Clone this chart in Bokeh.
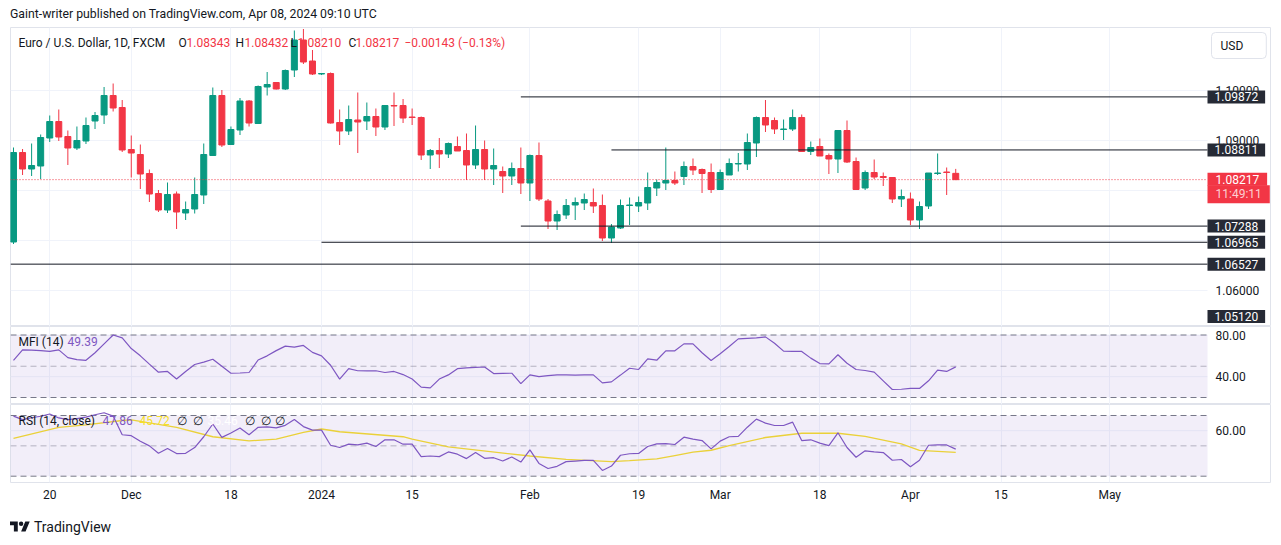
import pandas as pd
from bokeh.plotting import figure
from bokeh.models import (Range1d, FixedTicker, NumeralTickFormatter, Label,
                          BoxAnnotation, Div, ColumnDataSource)
from bokeh.layouts import column
from bokeh.embed import file_html
from bokeh.resources import INLINE

# ---------------- data ----------------
dates = pd.bdate_range("2023-11-14", "2024-04-08")
opens = [1.0697, 1.0876, 1.0843, 1.0849, 1.0905, 1.0938, 1.0908, 1.0885, 1.0899, 1.0939,
         1.0951, 1.0990, 1.0966, 1.0882, 1.0872, 1.0834, 1.0794, 1.0761, 1.0793, 1.0755,
         1.0763, 1.0791, 1.0870, 1.0990, 1.0892, 1.0921, 1.0979, 1.0934, 1.1007, 1.1016,
         1.1003, 1.1041, 1.1101, 1.1059, 1.1033, 1.1034, 1.0936, 1.0919, 1.0941, 1.0939,
         1.0948, 1.0927, 1.0970, 1.0970, 1.0947, 1.0946, 1.0871, 1.0880, 1.0873, 1.0888,
         1.0880, 1.0851, 1.0882, 1.0843, 1.0838, 1.0829, 1.0844, 1.0815, 1.0870, 1.0779,
         1.0739, 1.0751, 1.0771, 1.0775, 1.0776, 1.0770, 1.0705, 1.0725, 1.0770, 1.0769,
         1.0775, 1.0805, 1.0815, 1.0820, 1.0828, 1.0848, 1.0842, 1.0836, 1.0802, 1.0831,
         1.0853, 1.0853, 1.0895, 1.0946, 1.0940, 1.0922, 1.0923, 1.0946, 1.0878, 1.0888,
         1.0870, 1.0863, 1.0920, 1.0858, 1.0805, 1.0836, 1.0828, 1.0826, 1.0783, 1.0783,
         1.0741, 1.0769, 1.0834, 1.0837, 1.08343]
highs = [1.0886, 1.0883, 1.0894, 1.0912, 1.0950, 1.0962, 1.0920, 1.0928, 1.0946, 1.0957,
         1.1007, 1.1014, 1.0981, 1.0910, 1.0892, 1.0842, 1.0801, 1.0816, 1.0798, 1.0778,
         1.0826, 1.0894, 1.1006, 1.1001, 1.0928, 1.0985, 1.0981, 1.1010, 1.1037, 1.1017,
         1.1042, 1.1120, 1.1123, 1.1081, 1.1035, 1.1036, 1.0962, 1.0970, 1.0996, 1.0976,
         1.0964, 1.0970, 1.0996, 1.0983, 1.0964, 1.0948, 1.0883, 1.0905, 1.0896, 1.0908,
         1.0914, 1.0930, 1.0900, 1.0884, 1.0848, 1.0856, 1.0886, 1.0872, 1.0896, 1.0783,
         1.0760, 1.0783, 1.0786, 1.0794, 1.0804, 1.0792, 1.0733, 1.0782, 1.0786, 1.0788,
         1.0836, 1.0822, 1.0886, 1.0838, 1.0858, 1.0864, 1.0844, 1.0854, 1.0842, 1.0864,
         1.0875, 1.0914, 1.0948, 1.0981, 1.0946, 1.0942, 1.0962, 1.0952, 1.0898, 1.0904,
         1.0874, 1.0920, 1.0940, 1.0866, 1.0840, 1.0862, 1.0836, 1.0826, 1.0802, 1.0796,
         1.0778, 1.0835, 1.0874, 1.0846, 1.08432]
lows = [1.0693, 1.0831, 1.0829, 1.0823, 1.0897, 1.0899, 1.0851, 1.0881, 1.0893, 1.0923,
        1.0933, 1.0958, 1.0877, 1.0826, 1.0803, 1.0777, 1.0757, 1.0755, 1.0723, 1.0741,
        1.0754, 1.0773, 1.0869, 1.0887, 1.0891, 1.0911, 1.0928, 1.0933, 1.0990, 1.1002,
        1.1001, 1.1027, 1.1053, 1.1031, 1.1031, 1.0934, 1.0891, 1.0911, 1.0875, 1.0921,
        1.0909, 1.0921, 1.0929, 1.0935, 1.0931, 1.0861, 1.0843, 1.0845, 1.0865, 1.0879,
        1.0821, 1.0843, 1.0821, 1.0811, 1.0795, 1.0811, 1.0793, 1.0779, 1.0779, 1.0723,
        1.0721, 1.0743, 1.0741, 1.0761, 1.0755, 1.0699, 1.0695, 1.0723, 1.0731, 1.0757,
        1.0761, 1.0789, 1.0801, 1.0811, 1.0811, 1.0831, 1.0795, 1.0795, 1.0802, 1.0831,
        1.0838, 1.0841, 1.0867, 1.0917, 1.0913, 1.0901, 1.0919, 1.0878, 1.0871, 1.0869,
        1.0833, 1.0835, 1.0855, 1.0801, 1.0801, 1.0823, 1.0809, 1.0775, 1.0767, 1.0731,
        1.0723, 1.0763, 1.0831, 1.0791, 1.08210]
closes = [1.0876, 1.0843, 1.0850, 1.0906, 1.0938, 1.0907, 1.0885, 1.0900, 1.0930, 1.0950,
          1.0990, 1.0965, 1.0881, 1.0875, 1.0833, 1.0793, 1.0761, 1.0792, 1.0757, 1.0762,
          1.0792, 1.0872, 1.0990, 1.0891, 1.0922, 1.0979, 1.0935, 1.1008, 1.1012, 1.1003,
          1.1040, 1.1101, 1.1057, 1.1033, 1.1034, 1.0935, 1.0919, 1.0942, 1.0937, 1.0948,
          1.0927, 1.0970, 1.0969, 1.0945, 1.0946, 1.0871, 1.0880, 1.0873, 1.0894, 1.0879,
          1.0851, 1.0882, 1.0843, 1.0850, 1.0829, 1.0844, 1.0815, 1.0870, 1.0783, 1.0739,
          1.0752, 1.0770, 1.0776, 1.0782, 1.0769, 1.0705, 1.0727, 1.0770, 1.0771, 1.0776,
          1.0806, 1.0816, 1.0820, 1.0815, 1.0848, 1.0841, 1.0834, 1.0802, 1.0836, 1.0854,
          1.0854, 1.0896, 1.0946, 1.0931, 1.0923, 1.0923, 1.0946, 1.0878, 1.0886, 1.0869,
          1.0863, 1.0920, 1.0857, 1.0802, 1.0836, 1.0827, 1.0826, 1.0783, 1.0788, 1.0741,
          1.0768, 1.0835, 1.0835, 1.0836, 1.08217]
mfi = [55.7, 65.7, 65.5, 65.0, 64.3, 65.7, 58.3, 56.3, 55.7, 63.0,
       71.5, 80.0, 77.3, 67.0, 60.0, 52.0, 44.3, 45.0, 37.7, 45.0,
       51.7, 54.0, 56.7, 50.0, 43.3, 43.5, 44.0, 56.0, 60.0, 65.0,
       69.3, 68.3, 70.0, 63.3, 60.0, 51.0, 37.7, 47.7, 45.7, 45.5,
       45.7, 44.0, 45.0, 42.0, 37.7, 30.0, 29.3, 37.7, 41.7, 47.7,
       48.5, 49.0, 49.3, 43.0, 43.2, 43.3, 33.3, 41.7, 40.0, 41.0,
       41.7, 41.7, 41.5, 41.7, 41.7, 34.0, 35.0, 41.5, 48.1, 46.9,
       57.1, 55.8, 64.8, 64.8, 71.5, 71.5, 63.0, 55.5, 62.0, 69.0,
       76.3, 76.8, 77.2, 78.2, 72.1, 64.5, 64.2, 64.2, 57.8, 52.6,
       52.3, 61.0, 52.9, 46.9, 45.9, 44.3, 36.0, 27.7, 27.9, 28.7,
       28.7, 36.0, 46.2, 45.0, 49.39]
rsi = [69.6, 67.3, 68.5, 69.5, 71.0, 68.4, 67.3, 68.0, 68.9, 70.5,
       71.8, 69.6, 57.3, 56.7, 53.0, 50.0, 45.1, 48.2, 44.9, 45.1,
       48.9, 56.0, 64.4, 55.6, 58.5, 61.8, 57.3, 62.2, 62.5, 61.8,
       63.5, 67.3, 62.7, 60.4, 60.4, 50.4, 48.9, 51.1, 50.7, 51.8,
       49.6, 54.0, 54.0, 51.1, 51.1, 42.9, 43.3, 42.9, 46.0, 44.5,
       41.6, 45.6, 41.8, 42.2, 40.0, 42.7, 39.3, 47.3, 38.4, 35.1,
       36.5, 39.6, 40.0, 40.4, 40.4, 33.8, 36.7, 43.8, 44.8, 45.0,
       49.6, 51.3, 51.5, 50.9, 55.7, 54.4, 53.5, 48.0, 53.1, 56.0,
       56.2, 62.3, 67.6, 65.0, 63.4, 63.4, 65.6, 53.5, 54.0, 51.8,
       50.2, 58.6, 48.9, 42.5, 46.7, 46.0, 45.6, 40.5, 41.0, 36.2,
       40.5, 50.4, 50.6, 50.6, 47.86]
rsi_ma_idx = [0, 5, 8, 12, 13, 18, 22, 26, 29, 32, 34, 36, 43, 44, 48, 57, 61, 66, 68,
              71, 73, 75, 77, 79, 83, 87, 91, 94, 98, 100, 104]
rsi_ma_val = [54.9, 62.2, 63.8, 66.7, 67.1, 62.2, 56.0, 53.3, 54.4, 58.9, 61.1, 59.3, 56.0,
              54.4, 49.3, 43.3, 41.1, 39.6, 40.3, 41.4, 43.6, 45.8, 47.1, 50.2, 55.5, 58.3,
              58.3, 56.2, 51.3, 47.0, 45.72]

tick_dates = ["2023-11-20", "2023-12-01", "2023-12-18", "2024-01-01", "2024-01-15", "2024-02-01",
              "2024-02-19", "2024-03-01", "2024-03-18", "2024-04-01", "2024-04-15", "2024-05-01"]
tick_labels = ["20", "Dec", "18", "2024", "15", "Feb", "19", "Mar", "18", "Apr", "15", "May"]

level_prices = [1.09872, 1.08811, 1.07288, 1.06965, 1.06527]
level_starts = ["2024-01-31", "2024-02-14", "2024-01-31", "2024-01-01", None]
offscreen_level = 1.05120
countdown = "11:49:11"

price_ticks = [1.06, 1.07, 1.08, 1.09, 1.10]
mfi_ticks = [40, 80]
mfi_bands = [80, 50, 20]
rsi_ticks = [60]
rsi_bands = [70, 50, 30]

# ---------------- styles ----------------
UP = "#089981"
DOWN = "#f23645"
PURPLE = "#7e57c2"
YELLOW = "#f7df2a"
TXT = "#131722"
GRID = "#f0f3fa"
BORDER = "#e0e3eb"
LBL_BG = "#262a35"
FONT = "Roboto"

W = 1271          # canvas width
LB = 10           # frame starts at x=10
FW = W - LB       # frame runs to the right border (price scale lives inside)
CHART_W = 1197    # width of the candle area; price scale is the rest
PX_PER_BAR = 9.06
x0 = -0.33
xr = Range1d(x0, x0 + FW / PX_PER_BAR)
chart_end = x0 + CHART_W / PX_PER_BAR
AX_STANDOFF = -(FW - CHART_W - 8)   # right-axis labels drawn 8px right of the candle area

full_days = pd.bdate_range("2023-11-14", "2024-05-31")
tick_idx = [int(full_days.get_loc(pd.Timestamp(d))) for d in tick_dates]
idx = list(range(len(dates)))


def style(f, ticks, fmt):
    f.yaxis.ticker = FixedTicker(ticks=ticks)
    f.yaxis.formatter = NumeralTickFormatter(format=fmt)
    for ax in f.yaxis:
        ax.axis_line_color = None
        ax.major_tick_line_color = None
        ax.minor_tick_line_color = None
        ax.major_tick_out = 0
        ax.major_tick_in = 0
        ax.major_label_standoff = AX_STANDOFF
        ax.major_label_text_font = FONT
        ax.major_label_text_font_size = "12px"
        ax.major_label_text_color = TXT
    f.xgrid.ticker = FixedTicker(ticks=tick_idx)
    f.xgrid.grid_line_color = GRID
    f.ygrid.grid_line_color = None
    f.segment(x0=[x0] * len(ticks), y0=ticks, x1=[chart_end] * len(ticks), y1=ticks,
              line_color=GRID, line_width=1)
    f.outline_line_color = BORDER
    f.background_fill_color = "white"
    f.border_fill_color = "white"


def mkfig(h, yr, bottom=0, xloc=None):
    return figure(width=W, height=h, x_range=xr, y_range=yr, output_backend="svg",
                  toolbar_location=None, y_axis_location="right", x_axis_location=xloc,
                  min_border_left=LB, min_border_right=0, min_border_top=0,
                  min_border_bottom=bottom)


def axis_box(f, y, text, bg, color="white", pad=(7, 2)):
    # box starts at the left edge of the price scale
    f.add_layout(Label(x=CHART_W, y=y, x_units="screen", text=text,
                       text_font=FONT, text_font_size="12px", text_color=color,
                       text_baseline="middle", background_fill_color=bg, padding=pad))


# ---------------- main pane ----------------
MH = 299
ylo, yhi = 1.0528, 1.1126
main = mkfig(MH, Range1d(ylo, yhi))
style(main, price_ticks, "0.00000")
pp = (yhi - ylo) / MH  # price per pixel

src = ColumnDataSource(dict(
    x=idx, o=opens, h=highs, l=lows, c=closes,
    top=[max(o, c) for o, c in zip(opens, closes)],
    bot=[min(o, c) for o, c in zip(opens, closes)],
    col=[UP if c >= o else DOWN for o, c in zip(opens, closes)]))
main.segment(x0="x", y0="l", x1="x", y1="h", line_color="col", line_width=1, source=src)
main.vbar(x="x", width=0.66, top="top", bottom="bot", fill_color="col", line_color="col",
          line_width=1, source=src)

for p_, s_ in zip(level_prices, level_starts):
    xs = x0 if s_ is None else int(full_days.get_loc(pd.Timestamp(s_)))
    main.segment(x0=[xs], y0=[p_], x1=[chart_end], y1=[p_], line_color=TXT, line_width=1)

last_price = closes[-1]
main.segment(x0=[x0], y0=[last_price], x1=[chart_end], y1=[last_price], line_color=DOWN,
             line_width=1, line_dash="1 2")

for p_ in level_prices:
    axis_box(main, p_, f"{p_:.5f}", LBL_BG)
axis_box(main, max(offscreen_level, ylo + 10 * pp), f"{offscreen_level:.5f}", LBL_BG)
axis_box(main, last_price + 0.5 * pp, f"{last_price:.5f}", DOWN, pad=(8, 2))
axis_box(main, last_price - 14.5 * pp, countdown, DOWN, color="#fcd0d3", pad=(8, 2))
main.add_layout(Label(x=CHART_W + 4, y=MH - 18, x_units="screen", y_units="screen", text="USD",
                      text_font=FONT, text_font_size="12px", text_color=TXT,
                      text_baseline="middle", border_line_color=BORDER, border_radius=4,
                      background_fill_color="white", padding=(9, 23, 6, 6)))

# legend line
LY = MH - 15
chg = closes[-1] - closes[-2]
legend_parts = [(8, "Euro / U.S. Dollar, 1D, FXCM", TXT),
                (168, "O", TXT), (176, f"{opens[-1]:.5f}", DOWN),
                (225, "H", TXT), (234, f"{highs[-1]:.5f}", DOWN),
                (280, "L", TXT), (287, f"{lows[-1]:.5f}", DOWN),
                (338, "C", TXT), (345, f"{closes[-1]:.5f}", DOWN),
                (394, f"\u2212{abs(chg):.5f} (\u2212{abs(chg) / closes[-2] * 100:.2f}%)", DOWN)]
for sx, t, c in legend_parts:
    main.add_layout(Label(x=sx, y=LY, x_units="screen", y_units="screen", text=t,
                          text_font=FONT, text_font_size="12px", text_color=c,
                          text_baseline="middle"))


def bands(f, levels):
    f.add_layout(BoxAnnotation(bottom=levels[2], top=levels[0], left=x0, right=chart_end,
                               fill_color=PURPLE, fill_alpha=0.1, line_color=None))
    for lv, a in zip(levels, [1.0, 0.5, 1.0]):
        f.segment(x0=[x0], y0=[lv], x1=[chart_end], y1=[lv], line_color="#787b86",
                  line_alpha=a, line_width=1, line_dash="6 4")


# ---------------- MFI pane ----------------
IH = 78
mfi_f = mkfig(IH, Range1d(13.28, 88.16))
style(mfi_f, mfi_ticks, "0.00")
bands(mfi_f, mfi_bands)
mfi_f.line(idx, mfi, line_color=PURPLE, line_width=1.2)
mfi_f.add_layout(Label(x=8, y=IH - 15, x_units="screen", y_units="screen", text="MFI (14)",
                       text_font=FONT, text_font_size="12px", text_color=TXT, text_baseline="middle"))
mfi_f.add_layout(Label(x=57, y=IH - 15, x_units="screen", y_units="screen", text=f"{mfi[-1]:.2f}",
                       text_font=FONT, text_font_size="12px", text_color=PURPLE, text_baseline="middle"))

# ---------------- RSI pane ----------------
rsi_f = mkfig(IH + 27, Range1d(25.85, 77.25), bottom=27, xloc="below")
style(rsi_f, rsi_ticks, "0.00")
bands(rsi_f, rsi_bands)
rsi_f.line(rsi_ma_idx, rsi_ma_val, line_color=YELLOW, line_width=1.3)
rsi_f.line(idx, rsi, line_color=PURPLE, line_width=1.2)
xa = rsi_f.xaxis[0]
xa.ticker = FixedTicker(ticks=tick_idx)
xa.major_label_overrides = {i: t for i, t in zip(tick_idx, tick_labels)}
xa.axis_line_color = None
xa.major_tick_line_color = None
xa.minor_tick_line_color = None
xa.major_tick_out = 0
xa.major_label_standoff = 5
xa.major_label_text_font = FONT
xa.major_label_text_font_size = "12px"
xa.major_label_text_color = TXT

RY = IH - 16
rsi_parts = [(8, "RSI (14, close)", TXT), (92, f"{rsi[-1]:.2f}", PURPLE),
             (129, f"{rsi_ma_val[-1]:.2f}", YELLOW), (166, "\u2205", TXT), (182, "\u2205", TXT),
             (197, "35.46", "white"), (234, "\u2205", TXT), (250, "\u2205", TXT), (264, "\u2205", TXT)]
for sx, t, c in rsi_parts:
    rsi_f.add_layout(Label(x=sx, y=RY, x_units="screen", y_units="screen", text=t,
                           text_font=FONT, text_font_size="12px", text_color=c,
                           text_baseline="middle"))

# ---------------- header / footer ----------------
header = Div(text=('<div style="padding:7px 0 0 10px;line-height:14px;font-family:Roboto;'
                   'font-size:12.25px;color:#131722;white-space:nowrap">'
                   'Gaint-writer published on TradingView.com, Apr 08, 2024 09:10 UTC</div>'),
             width=W, height=27, margin=0)
logo = ('<div style="display:flex;align-items:center;height:36px;padding-left:10px;'
        'font-family:Roboto;font-size:14px;color:#131722">'
        '<svg width="20" height="16" viewBox="0 0 36 28"><path fill="#131722" '
        'd="M14 22H7V11H0V4h14v18zM28 22h-8l7.5-18h8L28 22z"/>'
        '<circle fill="#131722" cx="20" cy="8" r="4"/></svg>'
        '<span style="margin-left:4px">TradingView</span></div>')
footer = Div(text=logo, width=W, height=36, margin=0)

layout = column(header, main, mfi_f, rsi_f, footer, spacing=0)
open("out.html", "w").write(file_html(layout, INLINE))
